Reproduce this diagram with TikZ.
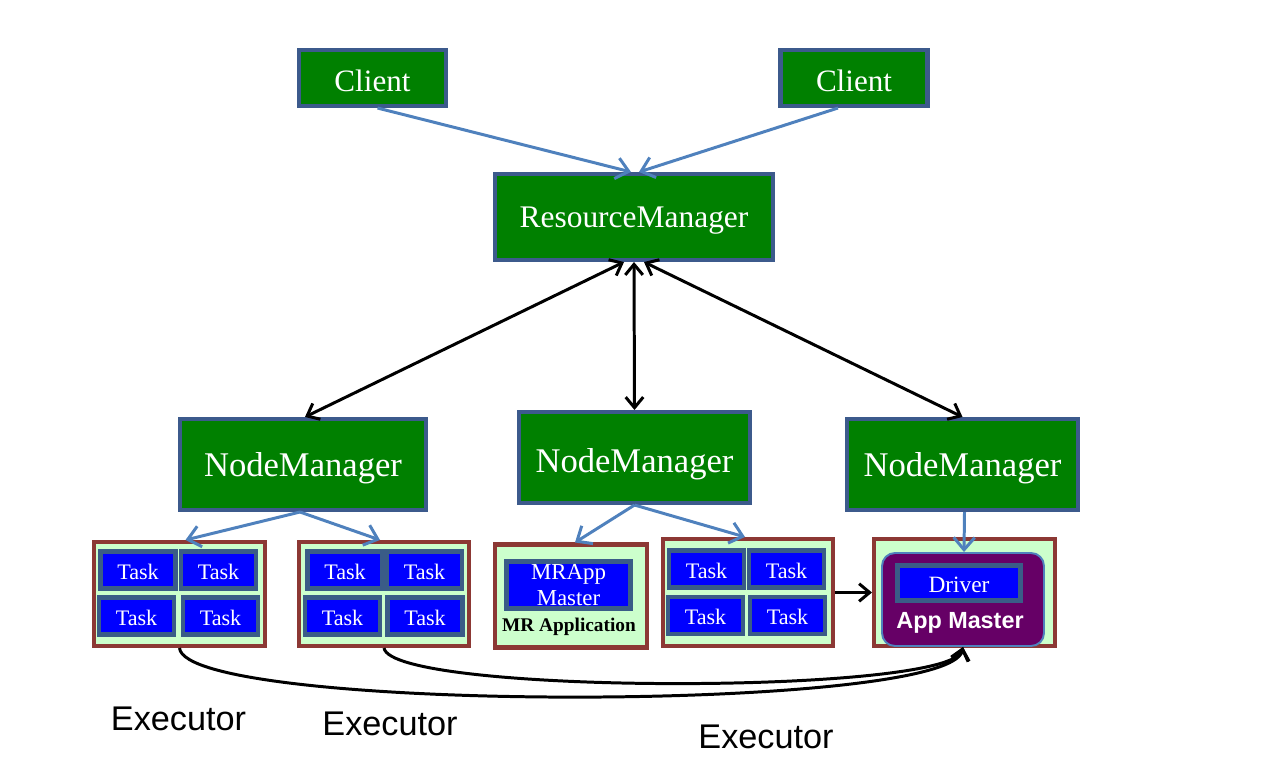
\documentclass[tikz,border=0pt]{standalone}
\usepackage{fontspec}
\setmainfont{Liberation Serif}
\newfontfamily\arialf{Liberation Sans}
\usetikzlibrary{arrows.meta,calc}
\definecolor{gr}{RGB}{0,128,0}
\definecolor{bord}{RGB}{60,90,140}
\definecolor{taskbd}{RGB}{58,92,135}
\definecolor{tblue}{RGB}{0,0,255}
\definecolor{cfill}{RGB}{204,255,204}
\definecolor{cbord}{RGB}{140,56,52}
\definecolor{purp}{RGB}{102,0,102}
\definecolor{arr}{RGB}{79,129,189}
\def\pxu{0.02cm}
\tikzset{
  gbox/.style={draw=bord, fill=gr, line width=2.3pt, text=white, inner sep=0pt, text height=14.2pt, text depth=0pt},
  cont/.style={draw=cbord, fill=cfill, line width=2.3pt, inner sep=0pt},
  tbox/.style={draw=taskbd, fill=tblue, line width=2.8pt, text=white, inner sep=0pt},
  task/.style={tbox, minimum width=75*\pxu, minimum height=37*\pxu, text height=10.3pt, text depth=0pt, font=\fontsize{12.6}{14}\selectfont},
  barrow/.style={draw=arr, line width=1.7pt, -{Straight Barb[length=7pt,width=12pt]}},
  karrow/.style={draw=black, line width=1.7pt, -{Straight Barb[length=6pt,width=10pt]}},
  kdarrow/.style={draw=black, line width=1.7pt, {Straight Barb[length=6pt,width=10pt]}-{Straight Barb[length=6pt,width=10pt]}},
  exlabel/.style={font=\arialf\fontsize{19.5}{22}\selectfont, inner sep=0pt}
}
\begin{document}
\begin{tikzpicture}[x=0.02cm,y=-0.02cm]
\useasboundingbox (0,0) rectangle (1267,767);
% top level
\node[gbox, text height=15.6pt, minimum width=147*\pxu, minimum height=56*\pxu, font=\fontsize{17.7}{20}\selectfont] (c1) at (372.5,78) {Client};
\node[gbox, text height=15.6pt, minimum width=147*\pxu, minimum height=56*\pxu, font=\fontsize{17.7}{20}\selectfont] (c2) at (854,78) {Client};
\node[gbox, text height=11.8pt, minimum width=278*\pxu, minimum height=86*\pxu, font=\fontsize{17.9}{20}\selectfont] (rm) at (634,217) {ResourceManager};
% node managers
\node[gbox, minimum width=246*\pxu, minimum height=91*\pxu, font=\fontsize{19.7}{22}\selectfont] (nm1) at (303,464.5) {NodeManager};
\node[gbox, text height=17.3pt, minimum width=231*\pxu, minimum height=91*\pxu, font=\fontsize{19.7}{22}\selectfont] (nm2) at (634.5,457.5) {NodeManager};
\node[gbox, minimum width=231*\pxu, minimum height=91*\pxu, font=\fontsize{19.7}{22}\selectfont] (nm3) at (962.5,464.5) {NodeManager};
% containers
\node[cont, minimum width=171*\pxu, minimum height=104*\pxu] (k1) at (179.5,594) {};
\node[cont, minimum width=170*\pxu, minimum height=104*\pxu] (k2) at (384,594) {};
\node[cont, minimum width=152*\pxu, minimum height=103*\pxu] (k3) at (571,596) {};
\node[cont, minimum width=170*\pxu, minimum height=107*\pxu] (k4) at (748,592.5) {};
\node[cont, minimum width=181*\pxu, minimum height=107*\pxu] (k5) at (964.5,592.5) {};
% tasks
\node[task] (t11) at (138,570) {Task};
\node[task] (t12) at (218.5,570) {Task};
\node[task] (t13) at (136.5,616) {Task};
\node[task] (t14) at (220.5,616) {Task};
\node[task] (t21) at (345,570) {Task};
\node[task] (t22) at (424.5,570) {Task};
\node[task] (t23) at (342.5,616) {Task};
\node[task] (t24) at (425,616) {Task};
\node[task] (t41) at (706.5,569) {Task};
\node[task] (t42) at (786.5,569) {Task};
\node[task] (t43) at (705.5,615.5) {Task};
\node[task] (t44) at (787.5,615.5) {Task};
% MR application
\node[tbox, minimum width=124*\pxu, minimum height=47*\pxu, align=center, font=\fontsize{13}{14.5}\selectfont] (mra) at (568.5,585) {MRApp\\Master};
\node[font=\bfseries\fontsize{11}{12}\selectfont, inner sep=0pt] (mrl) at (569,627) {MR Application};
% app master
\node[draw=arr, fill=purp, line width=1.1pt, rounded corners=13*\pxu, minimum width=162*\pxu, minimum height=93*\pxu, inner sep=0pt] (am) at (963,599.5) {};
\node[task, text height=10.9pt, minimum width=123*\pxu, minimum height=35*\pxu, font=\fontsize{13.3}{14}\selectfont] (drv) at (959,583) {Driver};
\node[text=white, font=\arialf\bfseries\fontsize{13.3}{14}\selectfont, inner sep=0pt] (aml) at (960,623) {App Master};
% executor labels
\node[exlabel] (e1) at (178.5,719) {Executor};
\node[exlabel] (e2) at (390,724) {Executor};
\node[exlabel] (e3) at (766,737) {Executor};
% connectors
\draw[barrow] ([xshift=5*\pxu]c1.south) -- ([xshift=-3*\pxu]rm.north);
\draw[barrow] ([xshift=-16*\pxu]c2.south) -- ([xshift=5*\pxu]rm.north);
\draw[kdarrow] ([xshift=-10*\pxu]rm.south) -- ([xshift=2*\pxu]nm1.north);
\draw[kdarrow] (rm.south) -- (nm2.north);
\draw[kdarrow] ([xshift=10*\pxu]rm.south) -- (nm3.north);
\draw[barrow] ([xshift=-3*\pxu]nm1.south) -- ([xshift=6*\pxu]k1.north);
\draw[barrow] ([xshift=-3*\pxu]nm1.south) -- ([xshift=-4*\pxu]k2.north);
\draw[barrow] (nm2.south) -- ([xshift=4*\pxu]k3.north);
\draw[barrow] (nm2.south) -- ([xshift=-3*\pxu]k4.north);
\draw[barrow] ([xshift=2*\pxu]nm3.south) -- ([xshift=1*\pxu]am.north);
\draw[karrow] (k4.east) -- (k5.west);
\draw[karrow] (k1.south) .. controls (186,713) and (950,713) .. (am.south);
\draw[karrow] (k2.south) .. controls (392,695) and (950,695) .. (am.south);
\end{tikzpicture}
\end{document}
